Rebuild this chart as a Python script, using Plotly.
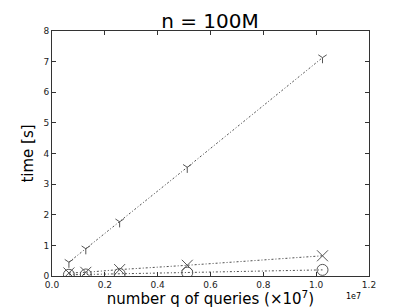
import plotly.graph_objects as go

queries = [0.64e6, 1.28e6, 2.56e6, 5.12e6, 10.24e6]
time_tri = [0.45, 0.89, 1.77, 3.55, 7.13]
time_x = [0.10, 0.12, 0.21, 0.35, 0.66]
time_o = [0.04, 0.05, 0.07, 0.11, 0.20]
xticks = [0, 0.2e7, 0.4e7, 0.6e7, 0.8e7, 1.0e7, 1.2e7]
xticklabels = ["0.0", "0.2", "0.4", "0.6", "0.8", "1.0", "1.2"]
yticks = [0, 1, 2, 3, 4, 5, 6, 7, 8]

font = "DejaVu Sans"
fig = go.Figure()
dash = "2px,2px,1px,2px"
for ys, sym, size in [(time_tri, "y-down-open", 7), (time_x, "x-thin-open", 11), (time_o, "circle-open", 11)]:
    fig.add_trace(go.Scatter(
        x=queries, y=ys, mode="lines+markers",
        line=dict(color="#222222", width=0.8, dash=dash),
        marker=dict(symbol=sym, size=size, color="#555555",
                    line=dict(color="#555555", width=1)),
        showlegend=False))

axis_common = dict(showgrid=False, zeroline=False, showline=True, linecolor="#333333",
                   linewidth=1, mirror="allticks", ticks="inside", ticklen=4, automargin=False,
                   tickcolor="#333333", tickfont=dict(family=font, size=9, color="#222222"))
fig.update_xaxes(range=[0, 1.2e7], tickvals=xticks, ticktext=xticklabels,
                 title=dict(text="number q of queries (×10<sup>7</sup>)",
                            font=dict(family=font, size=15, color="black"), standoff=11),
                 **axis_common)
fig.update_yaxes(range=[0, 8], tickvals=yticks,
                 title=dict(text="time [s]", font=dict(family=font, size=15, color="black"), standoff=6),
                 **axis_common)
fig.add_annotation(text="1e7", x=1.0, y=0, xref="paper", yref="paper", xanchor="right",
                   yanchor="top", yshift=-14, xshift=-6, showarrow=False,
                   font=dict(family=font, size=8, color="black"))
fig.update_layout(
    width=411, height=308,
    margin=dict(l=52, r=42, t=31, b=32, autoexpand=False),
    paper_bgcolor="white", plot_bgcolor="white",
    title=dict(text="n = 100M", x=0.511, xanchor="center", y=1, yref="paper", yanchor="bottom",
               pad=dict(b=3), font=dict(family=font, size=20, color="black")),
)
fig.write_html("out.html", config={"displayModeBar": False},
               post_script="document.body.style.margin='0';")
